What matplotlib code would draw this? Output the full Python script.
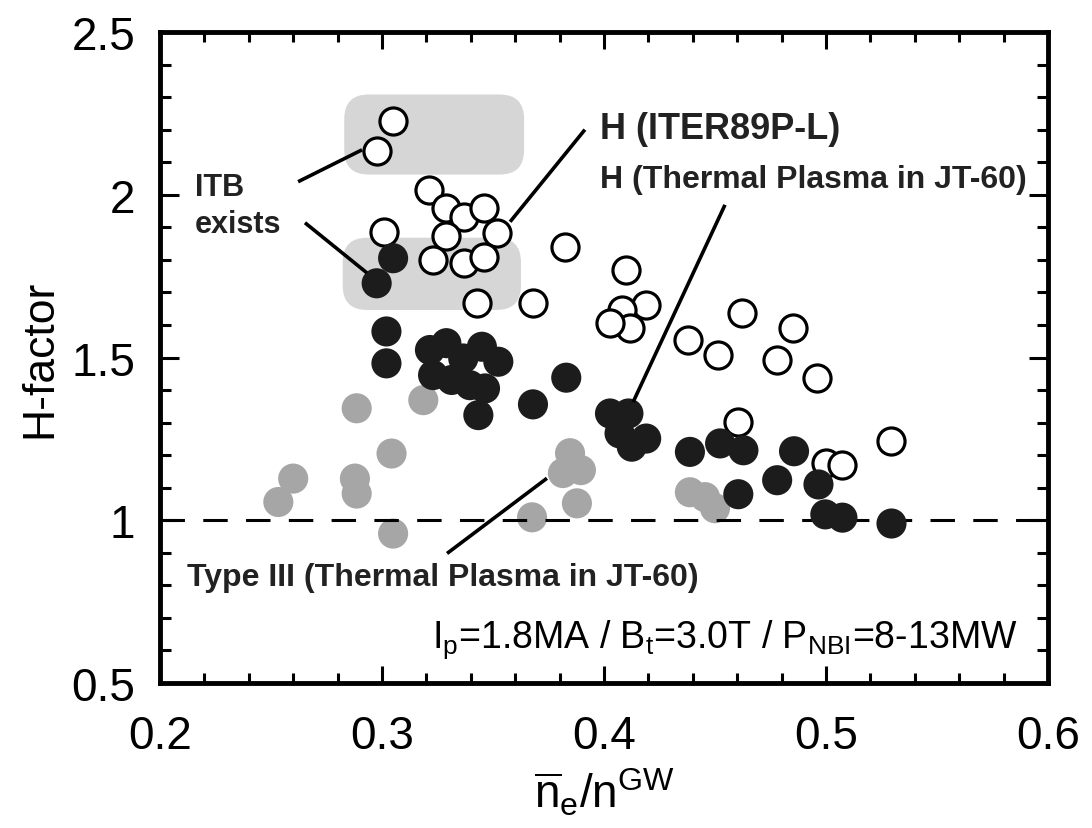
import matplotlib
matplotlib.use("Agg")
import matplotlib.pyplot as plt
from matplotlib.patches import FancyBboxPatch
from matplotlib.ticker import MultipleLocator

plt.rcParams['font.family'] = ['Liberation Sans', 'DejaVu Sans']
plt.rcParams['mathtext.fontset'] = 'custom'
plt.rcParams['mathtext.rm'] = 'Liberation Sans'
plt.rcParams['mathtext.it'] = 'Liberation Sans'
plt.rcParams['mathtext.bf'] = 'Liberation Sans:bold'

# ---- data ----
open_x = [0.305, 0.2976, 0.321, 0.329, 0.337, 0.346, 0.352, 0.329, 0.323, 0.337,
          0.346, 0.301, 0.343, 0.368, 0.3824, 0.410, 0.419, 0.408, 0.4117, 0.4027,
          0.438, 0.4515, 0.462, 0.485, 0.478, 0.496, 0.4605, 0.5295, 0.5002, 0.5074]
open_y = [2.226, 2.133, 2.015, 1.959, 1.933, 1.959, 1.882, 1.872, 1.800, 1.790,
          1.810, 1.887, 1.667, 1.667, 1.841, 1.769, 1.660, 1.646, 1.590, 1.605,
          1.554, 1.508, 1.638, 1.590, 1.492, 1.436, 1.302, 1.243, 1.175, 1.170]

black_x = [0.305, 0.2976, 0.302, 0.302, 0.3216, 0.329, 0.3366, 0.345, 0.3524, 0.323,
           0.3314, 0.3396, 0.3464, 0.3434, 0.368, 0.383, 0.4027, 0.411, 0.407, 0.419,
           0.4125, 0.4387, 0.4523, 0.4628, 0.4605, 0.4856, 0.478, 0.4966, 0.4997, 0.5074,
           0.5295]
black_y = [1.805, 1.728, 1.580, 1.482, 1.523, 1.544, 1.497, 1.533, 1.487, 1.446,
           1.431, 1.415, 1.405, 1.323, 1.356, 1.438, 1.328, 1.328, 1.267, 1.251,
           1.226, 1.210, 1.236, 1.215, 1.080, 1.212, 1.123, 1.110, 1.018, 1.008,
           0.990]

gray_x = [0.2533, 0.260, 0.2878, 0.2886, 0.2886, 0.3043, 0.305, 0.3186, 0.3676, 0.3847,
          0.3815, 0.3896, 0.3878, 0.4387, 0.4455, 0.450]
gray_y = [1.056, 1.128, 1.128, 1.082, 1.344, 1.205, 0.959, 1.369, 1.009, 1.206,
          1.145, 1.154, 1.052, 1.086, 1.071, 1.037]

reference_level = 1.0

# ITB shaded regions: (x0, x1, y0, y1)
itb_regions = [(0.283, 0.364, 2.062, 2.308),
               (0.2823, 0.3626, 1.646, 1.868)]

# leader lines: ((x0, y0), (x1, y1))
leader_lines = [((0.2622, 2.040), (0.2910, 2.138)),
                ((0.2653, 1.914), (0.2932, 1.760)),
                ((0.3577, 1.917), (0.3914, 2.200)),
                ((0.4131, 1.363), (0.4545, 1.969)),
                ((0.3293, 0.898), (0.3743, 1.129))]

x_ticks = [0.2, 0.3, 0.4, 0.5, 0.6]
x_ticklabels = ['0.2', '0.3', '0.4', '0.5', '0.6']
y_ticks = [0.5, 1.0, 1.5, 2.0, 2.5]
y_ticklabels = ['0.5', '1', '1.5', '2', '2.5']

# ---- figure ----
fig = plt.figure(figsize=(10.92, 8.29), dpi=100)
ax = fig.add_axes([160/1092, 1-684/829, (1048-160)/1092, (684-33)/829])
ax.set_xlim(0.2, 0.6)
ax.set_ylim(0.5, 2.5)

# shaded ITB regions
for (x0, x1, y0, y1) in itb_regions:
    p = FancyBboxPatch((x0, y0), x1 - x0, y1 - y0,
                       boxstyle="round,pad=0,rounding_size=0.011",
                       mutation_aspect=6.8, facecolor='#d6d6d6',
                       edgecolor='none', zorder=1)
    ax.add_patch(p)

ax.scatter(gray_x, gray_y, s=470, facecolor='#a6a6a6', edgecolor='none', zorder=2)
ax.axhline(reference_level, color='black', lw=2.2, dashes=(8, 6), zorder=3)
ax.scatter(open_x, open_y, s=380, facecolor='white', edgecolor='black',
           linewidths=2.3, zorder=4)
ax.scatter(black_x, black_y, s=470, facecolor='#1c1c1c', edgecolor='none', zorder=5)

for (a, b) in leader_lines:
    ax.plot([a[0], b[0]], [a[1], b[1]], color='black', lw=2.6,
            solid_capstyle='butt', zorder=6)

tc = '#222222'
ax.text(0.2158, 2.0, 'ITB', fontsize=22, fontweight='bold', color=tc,
        ha='left', va='baseline', zorder=7)
ax.text(0.2158, 1.886, 'exists', fontsize=22, fontweight='bold', color=tc,
        ha='left', va='baseline', zorder=7)
ax.text(0.3982, 2.175, 'H (ITER89P-L)', fontsize=26, fontweight='bold', color=tc,
        ha='left', va='baseline', zorder=7)
ax.text(0.3982, 2.025, 'H (Thermal Plasma in JT-60)', fontsize=23, fontweight='bold',
        color=tc, ha='left', va='baseline', zorder=7)
ax.text(0.2122, 0.800, 'Type III (Thermal Plasma in JT-60)', fontsize=23,
        fontweight='bold', color=tc, ha='left', va='baseline', zorder=7)
ax.text(0.5865, 0.612,
        r'I$_\mathregular{p}$=1.8MA / B$_\mathregular{t}$=3.0T / P$_\mathregular{NBI}$=8-13MW',
        fontsize=27, color='black', ha='right', va='baseline', zorder=7)

# axes styling
for sp in ax.spines.values():
    sp.set_linewidth(3.5)
    sp.set_zorder(8)
ax.set_xticks(x_ticks)
ax.set_xticklabels(x_ticklabels)
ax.set_yticks(y_ticks)
ax.set_yticklabels(y_ticklabels)
ax.xaxis.set_minor_locator(MultipleLocator(0.02))
ax.yaxis.set_minor_locator(MultipleLocator(0.1))
ax.tick_params(axis='both', which='both', direction='in', top=True, right=True, width=2.2)
ax.tick_params(axis='x', which='major', length=12, pad=22, labelsize=33)
ax.tick_params(axis='x', which='minor', length=7)
ax.tick_params(axis='y', which='major', length=14, pad=18, labelsize=33)
ax.tick_params(axis='y', which='minor', length=8)

ax.set_xlabel(r'$\overline{\mathregular{n}}_\mathregular{e}$/n$^\mathregular{GW}$',
              fontsize=33, labelpad=6)
ax.set_ylabel('H-factor', fontsize=32, labelpad=8)

fig.savefig('out.png', dpi=100)
